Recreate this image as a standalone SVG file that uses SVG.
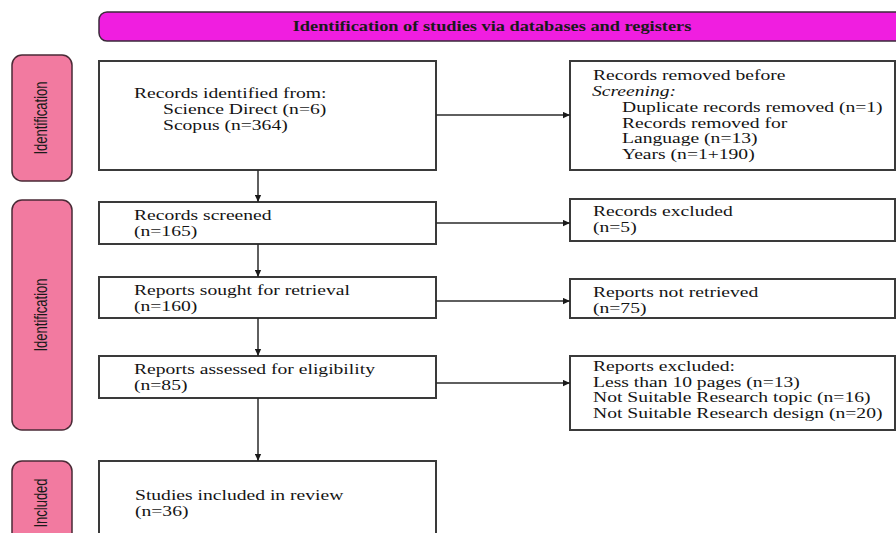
<svg xmlns="http://www.w3.org/2000/svg" width="896" height="533" viewBox="0 0 896 533">
<style>
.bx{fill:#fff;stroke:#3a3a3a;stroke-width:2}
.side{fill:#F27AA0;stroke:#4a2a36;stroke-width:1.5}
.hdr{fill:#F01EE0;stroke:#3a2a3a;stroke-width:1.5}
.t{font-family:"Liberation Serif","Times New Roman",serif;font-size:14px;fill:#141414}
.it{font-style:italic}
.h{font-family:"Liberation Serif","Times New Roman",serif;font-size:14px;font-weight:bold;fill:#1a1a1a;text-anchor:middle}
.s{font-family:"Liberation Sans",Arial,sans-serif;font-size:14px;fill:#1a1a1a;text-anchor:middle}
.ln{stroke:#2a2a2a;stroke-width:1.5;fill:none;marker-end:url(#ah)}
</style>
<defs>
<marker id="ah" viewBox="0 0 10 10" refX="10" refY="5" markerWidth="8" markerHeight="7" markerUnits="userSpaceOnUse" orient="auto">
<path d="M0,0.5 L10,5 L0,9.5 z" fill="#1a1a1a"/>
</marker>
</defs>
<rect width="896" height="533" fill="#fff"/>

<g id="header">
<rect class="hdr" x="99" y="12" width="830" height="29" rx="8"/>
<text class="h" transform="translate(492 31) scale(1.31 1)">Identification of studies via databases and registers</text>
</g>

<g id="side-identification-1">
<rect class="side" x="12" y="55" width="60" height="126" rx="10"/>
<text class="s" transform="translate(47 118) scale(1.37 0.93) rotate(-90)">Identification</text>
</g>
<g id="side-identification-2">
<rect class="side" x="12" y="200" width="60" height="230" rx="10"/>
<text class="s" transform="translate(47 315) scale(1.37 0.93) rotate(-90)">Identification</text>
</g>
<g id="side-included">
<rect class="side" x="12" y="461" width="60" height="90" rx="10"/>
<text class="s" transform="translate(47 503) scale(1.37 0.93) rotate(-90)">Included</text>
</g>

<g id="records-identified">
<rect class="bx" x="99" y="61" width="337" height="109"/>
<text class="t" transform="translate(134 98) scale(1.4 1)">Records identified from:</text>
<text class="t" transform="translate(163 114) scale(1.4 1)">Science Direct (n=6)</text>
<text class="t" transform="translate(163 130) scale(1.4 1)">Scopus (n=364)</text>
</g>

<g id="records-removed">
<rect class="bx" x="570" y="61" width="325" height="109"/>
<text class="t" transform="translate(593 80) scale(1.4 1)">Records removed before</text>
<text class="t it" transform="translate(592 96) scale(1.4 1)">Screening:</text>
<text class="t" transform="translate(622 112) scale(1.4 1)">Duplicate records removed (n=1)</text>
<text class="t" transform="translate(622 127.5) scale(1.4 1)">Records removed for</text>
<text class="t" transform="translate(622 143) scale(1.4 1)">Language (n=13)</text>
<text class="t" transform="translate(622 159) scale(1.4 1)">Years (n=1+190)</text>
</g>

<g id="records-screened">
<rect class="bx" x="99" y="202" width="337" height="42"/>
<text class="t" transform="translate(134 220) scale(1.4 1)">Records screened</text>
<text class="t" transform="translate(134 236) scale(1.4 1)">(n=165)</text>
</g>

<g id="records-excluded">
<rect class="bx" x="570" y="199" width="325" height="42"/>
<text class="t" transform="translate(593 216) scale(1.4 1)">Records excluded</text>
<text class="t" transform="translate(593 232) scale(1.4 1)">(n=5)</text>
</g>

<g id="reports-sought">
<rect class="bx" x="99" y="277" width="337" height="41"/>
<text class="t" transform="translate(134 295) scale(1.4 1)">Reports sought for retrieval</text>
<text class="t" transform="translate(134 311) scale(1.4 1)">(n=160)</text>
</g>

<g id="reports-not-retrieved">
<rect class="bx" x="570" y="279" width="325" height="39"/>
<text class="t" transform="translate(593 297) scale(1.4 1)">Reports not retrieved</text>
<text class="t" transform="translate(593 312.5) scale(1.4 1)">(n=75)</text>
</g>

<g id="reports-assessed">
<rect class="bx" x="99" y="356" width="337" height="42"/>
<text class="t" transform="translate(134 374) scale(1.4 1)">Reports assessed for eligibility</text>
<text class="t" transform="translate(134 390) scale(1.4 1)">(n=85)</text>
</g>

<g id="reports-excluded">
<rect class="bx" x="570" y="356" width="325" height="74"/>
<text class="t" transform="translate(593 371) scale(1.4 1)">Reports excluded:</text>
<text class="t" transform="translate(593 386.5) scale(1.4 1)">Less than 10 pages (n=13)</text>
<text class="t" transform="translate(593 402) scale(1.4 1)">Not Suitable Research topic (n=16)</text>
<text class="t" transform="translate(593 417.5) scale(1.4 1)">Not Suitable Research design (n=20)</text>
</g>

<g id="studies-included">
<rect class="bx" x="99" y="461" width="337" height="90"/>
<text class="t" transform="translate(135 500) scale(1.4 1)">Studies included in review</text>
<text class="t" transform="translate(135 516) scale(1.4 1)">(n=36)</text>
</g>

<g id="connectors">
<line class="ln" x1="436" y1="115" x2="570" y2="115"/>
<line class="ln" x1="258" y1="170" x2="258" y2="202"/>
<line class="ln" x1="436" y1="223" x2="570" y2="223"/>
<line class="ln" x1="258" y1="244" x2="258" y2="277"/>
<line class="ln" x1="436" y1="301" x2="570" y2="301"/>
<line class="ln" x1="258" y1="318" x2="258" y2="356"/>
<line class="ln" x1="436" y1="383" x2="570" y2="383"/>
<line class="ln" x1="258" y1="398" x2="258" y2="461"/>
</g>
</svg>
